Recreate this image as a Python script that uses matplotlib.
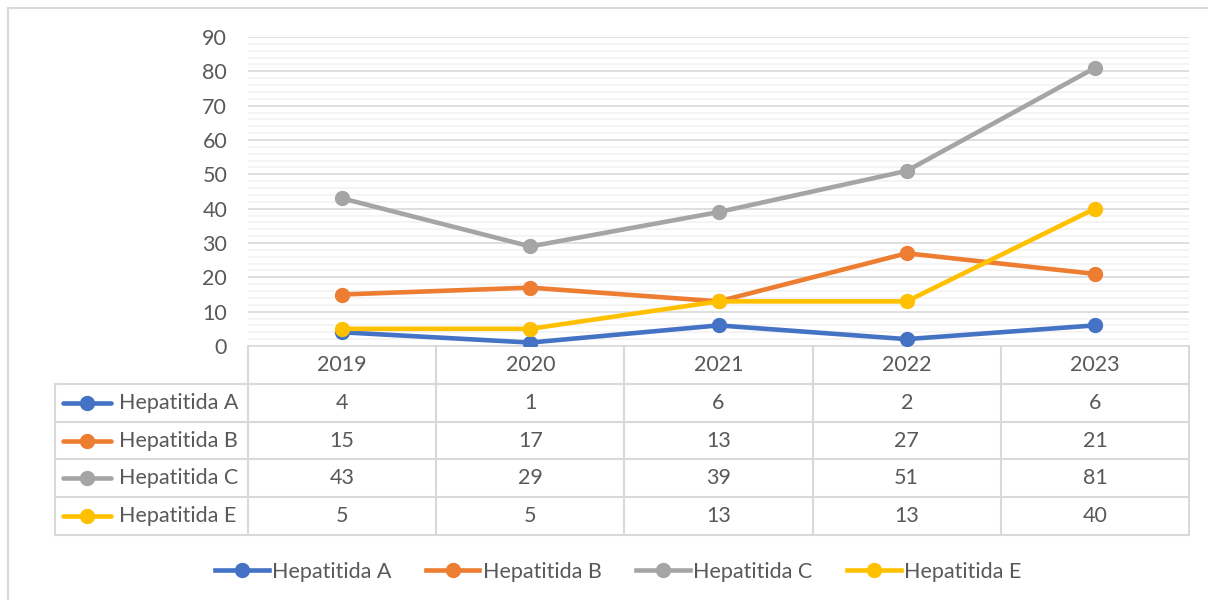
import matplotlib
matplotlib.use('Agg')
import matplotlib.pyplot as plt
from matplotlib.lines import Line2D
from matplotlib.patches import Rectangle
from matplotlib.ticker import MultipleLocator

plt.rcParams['font.family'] = ['Lato', 'DejaVu Sans']

years = ['2019', '2020', '2021', '2022', '2023']
series_names = ['Hepatitida A', 'Hepatitida B', 'Hepatitida C', 'Hepatitida E']
hep_a = [4, 1, 6, 2, 6]
hep_b = [15, 17, 13, 27, 21]
hep_c = [43, 29, 39, 51, 81]
hep_e = [5, 5, 13, 13, 40]
colors = ['#4472C4', '#ED7D31', '#A5A5A5', '#FFC000']

all_series = [hep_a, hep_b, hep_c, hep_e]
text_col = '#595959'
grid_col = '#d9d9d9'
fs = 15.5

W, H = 1208, 600
fig = plt.figure(figsize=(W / 100, H / 100), dpi=100)

# outer chart border
fig.patches.append(Rectangle((8 / W, -0.1), 1.1, 1.1 - 8 / H, transform=fig.transFigure,
                             fill=False, edgecolor=grid_col, lw=1.5))

# plot area
x0, x1 = 248, 1189
ax = fig.add_axes([x0 / W, 1 - 346 / H, (x1 - x0) / W, (346 - 37) / H])
xs = list(range(len(years)))
for name, vals, c in zip(series_names, all_series, colors):
    ax.plot(xs, vals, color=c, lw=3.3, marker='o', markersize=10, label=name,
            solid_capstyle='round', zorder=3)
ax.set_xlim(-0.5, len(years) - 0.5)
ax.set_ylim(0, 90)
ax.yaxis.set_major_locator(MultipleLocator(10))
ax.yaxis.set_minor_locator(MultipleLocator(2))
ax.grid(axis='y', which='major', color=grid_col, lw=1.2)
ax.grid(axis='y', which='minor', color='#f2f2f2', lw=1.2)
ax.set_axisbelow(True)
for s in ['top', 'right', 'left']:
    ax.spines[s].set_visible(False)
ax.spines['bottom'].set_color(grid_col)
ax.spines['bottom'].set_linewidth(1.2)
ax.set_xticks([])
ax.tick_params(axis='y', which='both', length=0, labelsize=fs, labelcolor=text_col, pad=15)

# data table below the plot
t0 = 55
unit = (x1 - x0) / len(years)
tab = fig.add_axes([t0 / W, 1 - 535 / H, (x1 - t0) / W, (535 - 346) / H])
left = -0.5 - (x0 - t0) / unit
tab.set_xlim(left, len(years) - 0.5)
tab.set_ylim(len(series_names) + 1, 0)
tab.axis('off')
lk = dict(color=grid_col, lw=1.5, clip_on=False)
for i in range(len(years) + 1):
    tab.plot([i - 0.5, i - 0.5], [0, len(series_names) + 1], **lk)
tab.plot([left, left], [1, len(series_names) + 1], **lk)
for r in range(1, len(series_names) + 2):
    tab.plot([left, len(years) - 0.5], [r, r], **lk)
for i, y in enumerate(years):
    tab.text(i, 0.5, y, ha='center', va='center', fontsize=fs, color=text_col)
for r, (name, vals, c) in enumerate(zip(series_names, all_series, colors), start=1):
    tab.plot([left + 0.04, left + 0.3], [r + 0.5, r + 0.5], color=c, lw=3.3,
             solid_capstyle='round', clip_on=False)
    tab.plot([left + 0.17], [r + 0.5], 'o', color=c, markersize=10, clip_on=False)
    tab.text(left + 0.34, r + 0.5, name, ha='left', va='center', fontsize=fs, color=text_col)
    for i, v in enumerate(vals):
        tab.text(i, r + 0.5, str(v), ha='center', va='center', fontsize=fs, color=text_col)

handles = [Line2D([0], [0], color=c, lw=3.3, marker='o', markersize=10) for c in colors]
fig.legend(handles, series_names, loc='center', bbox_to_anchor=(618 / W, 1 - 572 / H),
           ncol=4, frameon=False, fontsize=fs, labelcolor=text_col, handlelength=2.5,
           handletextpad=0.15, columnspacing=1.6)

fig.savefig('out.png', dpi=100)
